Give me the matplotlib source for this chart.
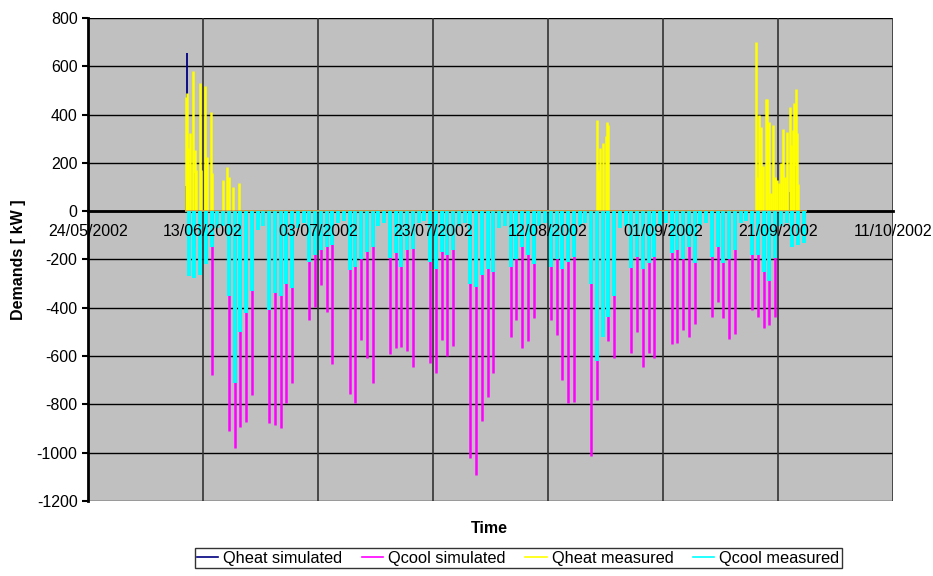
import numpy as np
import pandas as pd
import matplotlib
matplotlib.use('Agg')
import matplotlib.pyplot as plt
import matplotlib.dates as mdates
from matplotlib.lines import Line2D

plt.rcParams['font.family'] = ['Liberation Sans', 'DejaVu Sans']
plt.rcParams['axes.unicode_minus'] = False

# daily peaks Mon..Sun, first day 10/06/2002 (kW)
first_day = '2002-06-10'
qcool_sim = [
    -120, -150, -130, -200, -679, -20, -15,
    -910, -981, -894, -873, -762, -25, -20,
    -877, -886, -897, -795, -711, -20, -15,
    -451, -397, -306, -418, -633, -20, -15,
    -758, -794, -534, -608, -712, -25, -20,
    -592, -567, -562, -578, -646, -20, -15,
    -628, -671, -534, -600, -559, -20, -15,
    -1022, -1093, -868, -769, -671, -25, -20,
    -520, -451, -568, -537, -444, -20, -15,
    -451, -514, -700, -795, -790, -20, -15,
    -1014, -782, -493, -537, -608, -20, -15,
    -587, -500, -645, -588, -608, -20, -15,
    -551, -547, -493, -520, -468, -20, -15,
    -438, -376, -444, -530, -509, -20, -15,
    -409, -439, -484, -472, -439, -20, -15,
    -60, -40, -30,
]
qcool_meas = [
    -270, -275, -265, -220, -150, -70, -60,
    -350, -710, -500, -420, -330, -80, -60,
    -410, -340, -350, -300, -320, -70, -50,
    -210, -180, -160, -150, -140, -50, -40,
    -245, -230, -200, -170, -150, -60, -50,
    -195, -175, -230, -160, -155, -50, -40,
    -210, -240, -170, -180, -160, -60, -50,
    -300, -315, -265, -240, -250, -70, -60,
    -230, -200, -150, -180, -220, -60, -50,
    -230, -200, -240, -210, -190, -60, -50,
    -300, -620, -520, -440, -350, -70, -60,
    -235, -190, -240, -215, -190, -60, -50,
    -175, -160, -200, -150, -215, -60, -50,
    -190, -150, -215, -200, -160, -50, -40,
    -180, -180, -250, -290, -195, -60, -50,
    -150, -140, -130,
]

# heating events (hourly readings)
qheat_meas_time = [
    '2002-06-10 03:00', '2002-06-10 07:00', '2002-06-10 11:00', '2002-06-10 18:00',
    '2002-06-11 08:00', '2002-06-11 15:00', '2002-06-11 19:00', '2002-06-12 10:00',
    '2002-06-12 14:00', '2002-06-13 07:00', '2002-06-13 15:00', '2002-06-14 08:00',
    '2002-06-14 15:00', '2002-06-16 13:00', '2002-06-17 05:00', '2002-06-17 11:00',
    '2002-06-18 06:00', '2002-06-19 06:00',
    '2002-08-20 13:00', '2002-08-20 19:00', '2002-08-21 01:00', '2002-08-21 12:00',
    '2002-08-22 02:00', '2002-08-22 05:00', '2002-08-22 12:00',
    '2002-09-17 05:00', '2002-09-17 10:00', '2002-09-17 16:00', '2002-09-17 21:00',
    '2002-09-18 03:00', '2002-09-18 08:00', '2002-09-18 22:00', '2002-09-19 04:00',
    '2002-09-19 09:00', '2002-09-19 18:00', '2002-09-20 02:00', '2002-09-20 11:00',
    '2002-09-20 22:00', '2002-09-21 03:00', '2002-09-21 12:00', '2002-09-21 23:00',
    '2002-09-22 07:00', '2002-09-22 15:00', '2002-09-23 01:00', '2002-09-23 06:00',
    '2002-09-23 13:00', '2002-09-23 20:00', '2002-09-24 02:00', '2002-09-24 07:00',
    '2002-09-24 14:00',
]
qheat_meas = [
    474, 488, 260, 323,
    578, 253, 170, 532,
    170, 516, 226, 412,
    157, 129, 184, 143,
    101, 115,
    378, 171, 260, 281,
    311, 371, 357,
    702, 143, 398, 165,
    350, 185, 463, 463,
    371, 77, 357, 143,
    129, 115, 198, 340,
    143, 329, 430, 274,
    336, 447, 505, 323,
    113,
]
qheat_sim_time = ['2002-06-10 03:00', '2002-06-10 07:00', '2002-06-11 09:00',
                  '2002-09-23 01:00', '2002-09-24 02:00']
qheat_sim = [105, 655, 157, 81, 187]

yticks = list(range(-1200, 801, 200))
xticks = ['24/05/2002', '13/06/2002', '03/07/2002', '23/07/2002',
          '12/08/2002', '01/09/2002', '21/09/2002', '11/10/2002']

days = pd.date_range(first_day, periods=len(qcool_sim), freq='D') + pd.Timedelta(hours=12)
heat_t = pd.to_datetime(qheat_meas_time)
heat_sim_t = pd.to_datetime(qheat_sim_time)
tick_dates = pd.to_datetime(xticks, format='%d/%m/%Y')

fig = plt.figure(figsize=(9.33, 5.76), dpi=100)
ax = fig.add_axes([0.0943, 0.130, 0.8627, 0.839])
ax.set_facecolor('#C0C0C0')

# grid drawn by hand so the tick labels can sit above the data
for y in yticks:
    ax.axhline(y, color='black', lw=1, zorder=1)
for t in tick_dates[1:]:
    ax.axvline(t, color='#333333', lw=1.2, zorder=1)

ax.vlines(heat_sim_t, 0, qheat_sim, color='#000080', lw=1.3, zorder=3)
ax.vlines(days, 0, qcool_sim, color='#FF00FF', lw=1.8, zorder=4)
ax.vlines(heat_t, 0, qheat_meas, color='#FFFF00', lw=1.8, zorder=5)
ax.plot([days[0] - pd.Timedelta(hours=12), days[-1] + pd.Timedelta(hours=8)], [0, 0],
        color='#D8A050', lw=1.3, zorder=5)
ax.vlines(days, 0, qcool_meas, color='#00FFFF', lw=2.8, zorder=6)

ax.set_xlim(tick_dates[0], tick_dates[-1])
ax.set_ylim(-1200, 800)
ax.set_yticks(yticks)
ax.set_xticks(tick_dates)
ax.xaxis.set_major_formatter(mdates.DateFormatter('%d/%m/%Y'))

ax.spines['bottom'].set_position(('data', 0))
ax.spines['bottom'].set_linewidth(2)
ax.spines['bottom'].set_zorder(2)
ax.spines['left'].set_linewidth(2)
ax.spines['left'].set_zorder(8)
ax.spines['top'].set_visible(False)
ax.spines['right'].set_visible(False)
ax.xaxis.set_zorder(9)
ax.yaxis.set_zorder(9)

ax.tick_params(axis='y', labelsize=11.5, length=4, width=1.5, direction='out')
ax.tick_params(axis='x', labelsize=11.5, length=0, pad=9)

ax.set_ylabel('Demands [ kW ]', fontsize=11.5, fontweight='bold', labelpad=8)
fig.text(0.524, 0.083, 'Time', fontsize=11.5, fontweight='bold', ha='center', va='center')

names = ['Qheat simulated', 'Qcool simulated', 'Qheat measured', 'Qcool measured']
colors = ['#000080', '#FF00FF', '#FFFF00', '#00FFFF']
handles = [Line2D([], [], color=c, lw=1.2) for c in colors]
leg = fig.legend(handles, names, loc='center', bbox_to_anchor=(0.5555, 0.031), ncol=4,
                 fontsize=11.8, frameon=True, fancybox=False, edgecolor='black',
                 handlelength=1.3, handletextpad=0.3, columnspacing=1.2,
                 borderpad=0.15)
leg.get_frame().set_linewidth(1)

fig.savefig('out.png', dpi=100)
